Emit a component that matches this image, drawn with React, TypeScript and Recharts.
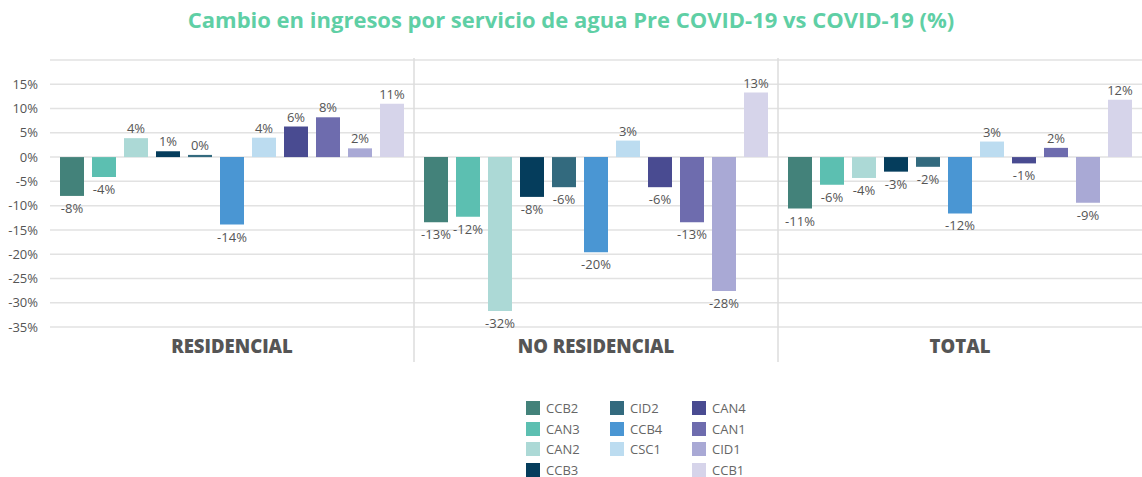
import React from "react";
import { BarChart, Bar, XAxis, YAxis, CartesianGrid, LabelList } from "recharts";

// categories and series
const categories = ["RESIDENCIAL", "NO RESIDENCIAL", "TOTAL"];
const seriesNames = ["CCB2", "CAN3", "CAN2", "CCB3", "CID2", "CCB4", "CSC1", "CAN4", "CAN1", "CID1", "CCB1"];
const seriesColors = ["#43827a", "#5cbfb1", "#acd9d6", "#053d5c", "#336a7e", "#4a96d3", "#bcdcf0", "#494b91", "#6e6cae", "#a9a9d5", "#d6d4ea"];

// % change per series, in category order
const ccb2 = [-8.0, -13.4, -10.6];
const can3 = [-4.1, -12.3, -5.7];
const can2 = [3.9, -31.7, -4.3];
const ccb3 = [1.2, -8.2, -3.0];
const cid2 = [0.45, -6.2, -2.0];
const ccb4 = [-13.9, -19.6, -11.6];
const csc1 = [4.0, 3.4, 3.2];
const can4 = [6.3, -6.2, -1.3];
const can1 = [8.2, -13.4, 1.9];
const cid1 = [1.8, -27.6, -9.4];
const ccb1 = [11.0, 13.3, 11.8];

const yTicks = [-35, -30, -25, -20, -15, -10, -5, 0, 5, 10, 15];

const seriesValues = [ccb2, can3, can2, ccb3, cid2, ccb4, csc1, can4, can1, cid1, ccb1];
const data = categories.map((name, i) => {
  const row: Record<string, any> = { name };
  seriesNames.forEach((s, k) => (row[s] = seriesValues[k][i]));
  return row;
});

// legend columns (as laid out in the source)
const legendCols = [
  ["CCB2", "CAN3", "CAN2", "CCB3"],
  ["CID2", "CCB4", "CSC1"],
  ["CAN4", "CAN1", "CID1", "CCB1"],
];

const FONT = "'Open Sans', sans-serif";
const W = 1142;
const PLOT_LEFT = 50;
const BAND = (W - PLOT_LEFT) / categories.length;

const ValueLabel = (props: any) => {
  const { x, y, width, height, value } = props;
  const top = Math.min(y, y + height);
  const bottom = Math.max(y, y + height);
  const ly = value >= 0 ? top - 10 : bottom + 12;
  return (
    <text x={x + width / 2} y={ly} textAnchor="middle" dominantBaseline="central" fontSize={13} fill="#555" fontFamily={FONT}>
      {Math.round(value)}%
    </text>
  );
};

const CategoryTick = (props: any) => {
  const { x, index, payload } = props;
  return (
    <g>
      <text x={x} y={345} textAnchor="middle" dominantBaseline="central" fontSize={18.5} fontWeight={800} fill="#555" fontFamily={FONT}>
        {payload.value}
      </text>
      {index > 0 && <line x1={x - BAND / 2} x2={x - BAND / 2} y1={58} y2={362} stroke="#dcdcdc" strokeWidth={1.5} />}
    </g>
  );
};

export default function App() {
  return (
    <div style={{ position: "absolute", left: 0, top: 0, width: W, height: 477, background: "#fff", fontFamily: FONT }}>
      <div style={{ position: "absolute", top: 4, width: "100%", textAlign: "center", fontSize: 22, fontWeight: 700, color: "#5fcfa5" }}>
        Cambio en ingresos por servicio de agua Pre COVID-19 vs COVID-19 (%)
      </div>
      <BarChart
        width={W}
        height={370}
        data={data}
        margin={{ top: 60, right: 0, bottom: 0, left: 0 }}
        barCategoryGap={10}
        barGap={8}
      >
        <CartesianGrid vertical={false} stroke="#e2e2e2" strokeWidth={1.5} />
        <XAxis dataKey="name" axisLine={false} tickLine={false} height={43} tick={<CategoryTick />} interval={0} />
        <YAxis
          domain={[-35, 20]}
          ticks={yTicks}
          width={PLOT_LEFT}
          axisLine={false}
          tickLine={false}
          tickFormatter={(v) => `${v}%`}
          tick={{ fontSize: 13, fill: "#555", fontFamily: FONT }}
          tickMargin={6}
        />
        {seriesNames.map((s, k) => (
          <Bar key={s} dataKey={s} fill={seriesColors[k]} isAnimationActive={false}>
            <LabelList dataKey={s} content={<ValueLabel />} />
          </Bar>
        ))}
      </BarChart>
      {legendCols.map((col, c) => (
        <div key={c} style={{ position: "absolute", left: [526, 610, 692][c], top: 398 }}>
          {col.map((s) => (
            <div key={s} style={{ display: "flex", alignItems: "center", height: 20.5 }}>
              <span style={{ width: 14, height: 14, background: seriesColors[seriesNames.indexOf(s)], marginRight: 6 }} />
              <span style={{ fontSize: 13, lineHeight: "14px", color: "#666" }}>{s}</span>
            </div>
          ))}
        </div>
      ))}
    </div>
  );
}
